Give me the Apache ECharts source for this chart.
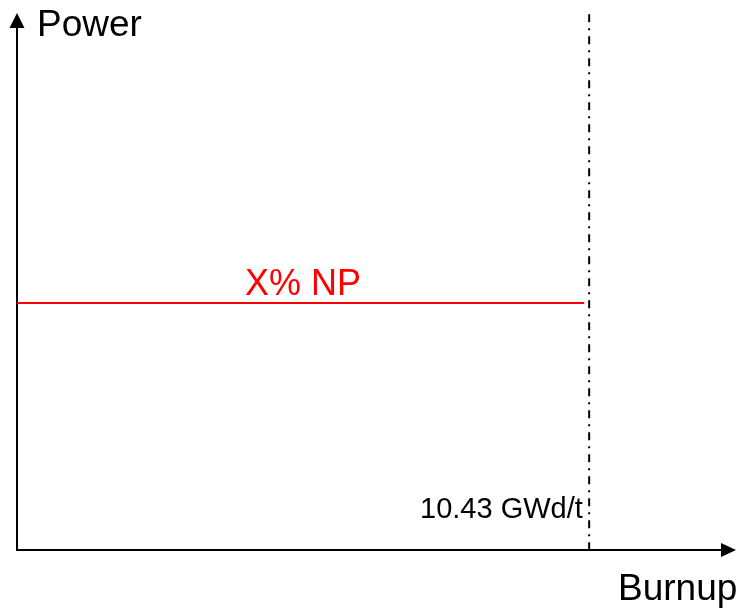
<!DOCTYPE html>
<html>
<head>
<meta charset="utf-8">
<script src="https://cdn.jsdelivr.net/npm/echarts@6/dist/echarts.min.js"></script>
<style>html,body{margin:0;padding:0;background:#fff}#c{width:736px;height:609px}</style>
</head>
<body>
<div id="c"></div>
<script>
// Data (arbitrary units: power in % of axis height, burnup in GWd/t)
const xRange = [0, 12.97];
const yRange = [0, 100];
const powerLevel = [[0, 46.65], [10.34, 46.65]];
const burnupLimit = [[10.43, 101.2], [10.43, 0]];
const labels = { y: 'Power', x: 'Burnup', power: 'X% NP', limit: '10.43 GWd/t' };

const FONT = "'Liberation Sans', Arial, sans-serif";
const chart = echarts.init(document.getElementById('c'), null, { renderer: 'canvas' });
chart.setOption({
  animation: false,
  backgroundColor: '#fff',
  grid: { left: 17, right: 7.5, top: 20.5, bottom: 59 },
  title: [
    { text: labels.y, left: 37, top: 7.5, padding: 0,
      textStyle: { fontSize: 37, fontWeight: 'normal', color: '#000', fontFamily: FONT } },
    { text: labels.x, left: 618, top: 571, padding: 0,
      textStyle: { fontSize: 37, fontWeight: 'normal', color: '#000', fontFamily: FONT } },
    { text: labels.power, left: 245, top: 267.5, padding: 0,
      textStyle: { fontSize: 36, fontWeight: 'normal', color: '#ff0000', fontFamily: FONT } },
    { text: labels.limit, left: 420, top: 495, padding: 0,
      textStyle: { fontSize: 29, fontWeight: 'normal', color: '#000', fontFamily: FONT } }
  ],
  xAxis: {
    type: 'value', min: xRange[0], max: xRange[1],
    axisLine: { show: true, onZero: false, symbol: ['none', 'triangle'], symbolSize: [14, 15],
      lineStyle: { color: '#000', width: 2 } },
    axisTick: { show: false }, axisLabel: { show: false }, splitLine: { show: false }
  },
  yAxis: {
    type: 'value', min: yRange[0], max: yRange[1],
    axisLine: { show: true, onZero: false, symbol: ['none', 'triangle'], symbolSize: [15, 15],
      lineStyle: { color: '#000', width: 2 } },
    axisTick: { show: false }, axisLabel: { show: false }, splitLine: { show: false }
  },
  series: [
    { type: 'line', data: powerLevel, symbol: 'none', clip: false,
      lineStyle: { color: '#ff0000', width: 2 } },
    { type: 'line', data: burnupLimit, symbol: 'none', clip: false,
      lineStyle: { color: '#000', width: 2, type: [8, 6, 2, 6] } }
  ]
});
</script>
</body>
</html>
